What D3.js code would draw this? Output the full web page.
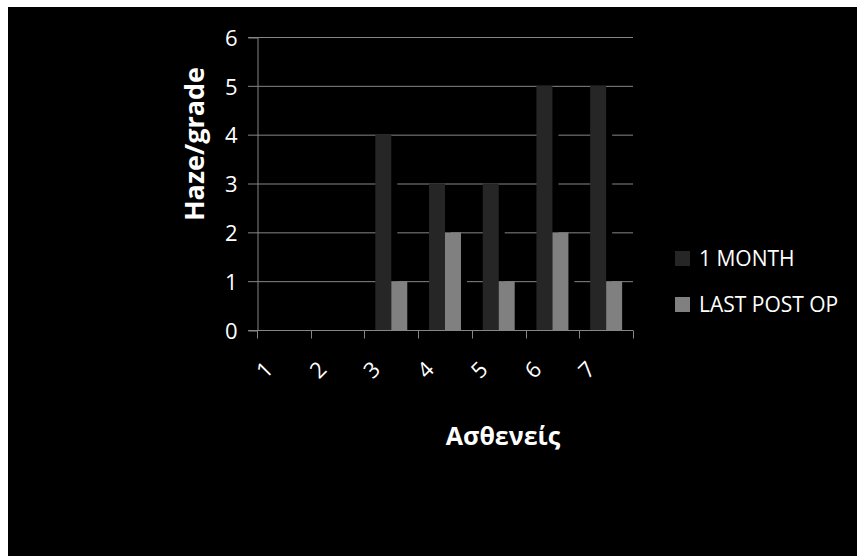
<!doctype html>
<html>
<head>
    <meta charset="utf-8">
    <title>Haze</title>
    <style>
    body {
        margin: 0;
        background: #fff;
    }
    text {
        font-family: "Open Sans", "Noto Sans", sans-serif;
        fill: #fff;
    }
    </style>
    <script src="https://cdn.jsdelivr.net/npm/d3@7"></script>
</head>
<body>
    <script>
    var patients = ["1", "2", "3", "4", "5", "6", "7"];
    var series = ["1 MONTH", "LAST POST OP"];
    var oneMonth = [0, 0, 4, 3, 3, 5, 5];
    var lastPostOp = [0, 0, 1, 2, 1, 2, 1];
    var yTicks = [0, 1, 2, 3, 4, 5, 6];
    var colors = ["#262626", "#808080"];

    var w = 857,
        h = 556;

    var svg = d3.select("body").append("svg")
        .attr("width", w)
        .attr("height", h);

    svg.append("rect")
        .attr("x", 8)
        .attr("y", 7)
        .attr("width", w - 8)
        .attr("height", h - 7)
        .attr("fill", "#000");

    var x = d3.scaleBand().domain(patients).range([257, 633]);
    var xs = d3.scaleBand().domain(series).range([0, x.bandwidth()]).paddingOuter(0.68);
    var y = d3.scaleLinear().domain([0, 6]).range([330, 37]);

    // gridlines
    svg.append("g")
        .selectAll("line")
        .data(yTicks)
        .enter().append("line")
        .attr("x1", 248)
        .attr("x2", 633)
        .attr("y1", function(d) { return y(d) + 0.5; })
        .attr("y2", function(d) { return y(d) + 0.5; })
        .attr("stroke", "#868686")
        .attr("stroke-width", 1);

    var rows = patients.map(function(p, i) {
        return [{ p: p, s: series[0], v: oneMonth[i] }, { p: p, s: series[1], v: lastPostOp[i] }];
    });
    var flat = [].concat.apply([], rows);

    // shadows (black, hide the gridlines just right of each bar)
    svg.append("g")
        .selectAll("rect")
        .data(flat)
        .enter().append("rect")
        .attr("x", function(d) { return x(d.p) + xs(d.s) + 6; })
        .attr("y", function(d) { return y(d.v) + 4; })
        .attr("width", xs.bandwidth())
        .attr("height", function(d) { return Math.max(0, y(0) - y(d.v) - 4); })
        .attr("fill", "#000");

    // axes
    var yAxis = d3.axisLeft(y).tickValues(yTicks).tickFormat(d3.format("d")).tickSize(9).tickPadding(11);
    var gy = svg.append("g").attr("transform", "translate(257.5,0.5)").call(yAxis);
    gy.select(".domain").attr("stroke", "#868686");
    gy.selectAll(".tick line").remove();
    gy.selectAll("text")
        .attr("fill", "#fff")
        .style("font-size", "22px")
        .attr("dy", "0.35em");

    var gx = svg.append("g").attr("transform", "translate(0,330.5)");
    gx.append("line")
        .attr("x1", 257).attr("x2", 633)
        .attr("stroke", "#868686");
    gx.selectAll(".tk")
        .data(patients.concat(["end"]))
        .enter().append("line")
        .attr("class", "tk")
        .attr("x1", function(d, i) { return Math.round(257 + i * x.step()) + 0.5; })
        .attr("x2", function(d, i) { return Math.round(257 + i * x.step()) + 0.5; })
        .attr("y1", 0)
        .attr("y2", 8)
        .attr("stroke", "#868686");
    gx.selectAll(".lbl")
        .data(patients)
        .enter().append("text")
        .attr("class", "lbl")
        .attr("text-anchor", "end")
        .attr("transform", function(d) {
            return "translate(" + (x(d) + x.bandwidth() / 2 - 15) + ",35) rotate(-45)";
        })
        .attr("dy", "0.35em")
        .style("font-size", "22px")
        .text(function(d) { return d; });

    // bars
    svg.append("g")
        .selectAll("rect")
        .data(flat)
        .enter().append("rect")
        .attr("x", function(d) { return x(d.p) + xs(d.s); })
        .attr("y", function(d) { return y(d.v); })
        .attr("width", xs.bandwidth())
        .attr("height", function(d) { return y(0) - y(d.v); })
        .attr("fill", function(d) { return colors[series.indexOf(d.s)]; });

    // titles
    svg.append("text")
        .attr("transform", "translate(204,144) rotate(-90)")
        .attr("text-anchor", "middle")
        .style("font-size", "27px")
        .style("font-weight", "bold")
        .text("Haze/grade");

    svg.append("text")
        .attr("x", 503)
        .attr("y", 445)
        .attr("text-anchor", "middle")
        .style("font-size", "25px")
        .style("font-weight", "bold")
        .text("Ασθενείς");

    // legend
    var lg = svg.append("g")
        .selectAll("g")
        .data(series)
        .enter().append("g")
        .attr("transform", function(d, i) { return "translate(675," + (251 + i * 46) + ")"; });
    lg.append("rect")
        .attr("width", 15)
        .attr("height", 15)
        .attr("fill", function(d, i) { return colors[i]; });
    lg.append("text")
        .attr("x", 24)
        .attr("y", 15)
        .style("font-size", "21px")
        .text(function(d) { return d; });
    </script>
</body>
</html>
